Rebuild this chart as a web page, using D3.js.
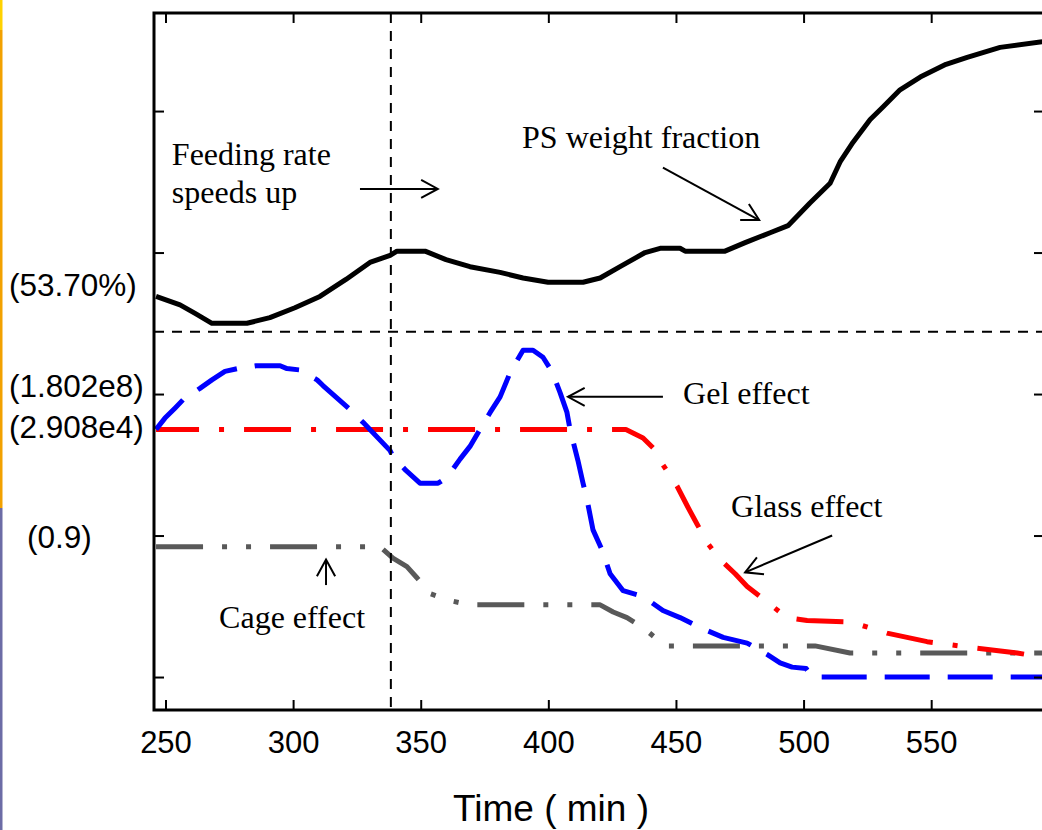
<!DOCTYPE html>
<html><head><meta charset="utf-8">
<script src="https://cdn.jsdelivr.net/npm/d3@7"></script>
<style>body{margin:0;background:#fff;overflow:hidden}</style>
</head><body><svg id="c" width="1042" height="830"></svg>
<script>
// ---------- data ----------
const xTicks = [250, 300, 350, 400, 450, 500, 550];
const yTicks = [0, 1, 2, 3, 4];
const xTitle = "Time ( min )";

// PS weight fraction (black solid)
const psTime = [246.3,255.7,261.6,268.2,281.9,290.9,300.7,310.5,320.7,330.1,338.0,340.7,351.7,359.9,369.3,381.1,390.1,399.9,413.6,420.3,428.1,437.9,443.8,451.6,453.6,469.2,477.1,486.9,493.9,502.5,510.4,514.3,519.4,526.1,531.2,537.8,545.7,555.8,564.1,577.0,593.5];
const psVal  = [2.69,2.63,2.57,2.50,2.50,2.54,2.61,2.69,2.81,2.93,2.98,3.01,3.01,2.95,2.90,2.86,2.82,2.79,2.79,2.82,2.90,3.00,3.03,3.03,3.01,3.01,3.07,3.14,3.19,3.35,3.49,3.64,3.78,3.94,4.03,4.15,4.24,4.33,4.38,4.45,4.49];

// Gel effect (blue dashed)
const gelTime = [246.3,249.8,253.7,256.9,263.5,268.2,273.3,278.4,285.5,294.9,297.6,302.7,309.4,311.7,322.3,327.4,338.0,339.1,344.2,349.7,356.8,360.3,365.4,369.3,373.2,377.2,381.1,385.0,390.1,394.0,397.9,401.4,404.6,407.3,408.5,411.6,413.6,415.2,417.5,421.0,424.2,429.3,437.1,444.9,451.6,459.4,468.5,477.9,485.7,490.8,495.5,501.0,503.3,593.5];
const gelVal  = [1.75,1.83,1.90,1.96,2.04,2.10,2.16,2.18,2.20,2.20,2.18,2.17,2.10,2.06,1.89,1.80,1.60,1.56,1.46,1.37,1.37,1.41,1.54,1.63,1.75,1.87,1.98,2.15,2.31,2.31,2.26,2.16,2.01,1.87,1.75,1.53,1.37,1.25,1.04,0.90,0.73,0.61,0.57,0.47,0.42,0.35,0.28,0.24,0.16,0.10,0.07,0.06,0.00,0.00];

// Glass effect (red dash-dot)
const glassTime = [246.3,430.4,437.1,441.0,444.9,450.4,454.7,458.3,462.2,467.3,473.2,477.9,485.7,493.5,501.4,518.2,532.7,548.4,565.2,583.7,593.5];
const glassVal  = [1.75,1.75,1.69,1.62,1.50,1.35,1.20,1.08,0.95,0.83,0.73,0.64,0.53,0.42,0.40,0.39,0.31,0.25,0.21,0.17,0.14];

// Cage effect (gray dash-dot-dot)
const cageTime = [246.3,334.1,339.1,344.6,348.6,353.6,361.5,369.3,420.3,425.4,430.8,437.1,445.7,504.5,518.2,593.5];
const cageVal  = [0.92,0.92,0.84,0.78,0.70,0.59,0.54,0.51,0.51,0.46,0.42,0.35,0.22,0.22,0.17,0.17];

// reference lines
const feedTime = 338.3;     // vertical dashed line
const psRefLevel = 2.44;    // horizontal dashed line

// left-side value labels
const leftLabels = ["(53.70%)", "(1.802e8)", "(2.908e4)", "(0.9)"];
const leftLabelVals = [2.69, 1.98, 1.69, 0.91];

// ---------- layout ----------
const svg = d3.select("#c");
const L = 154, R = 1044, T = 13, B = 710;
const x = d3.scaleLinear().domain([245.5, 594.2]).range([L, R]);
const y = d3.scaleLinear().domain([-0.233, 4.693]).range([B, T]);
const sans = "'Liberation Sans', Arial, sans-serif";
const serif = "'Liberation Serif', 'Times New Roman', serif";

// left colour strip (slide decoration)
svg.append("rect").attr("x",0).attr("y",0).attr("width",2.5).attr("height",30).attr("fill","#ffd200");
svg.append("rect").attr("x",0).attr("y",30).attr("width",2.5).attr("height",478).attr("fill","#f2a100");
svg.append("rect").attr("x",0).attr("y",508).attr("width",2.5).attr("height",322).attr("fill","#6c6ca6");

svg.append("defs").append("clipPath").attr("id","clip")
  .append("rect").attr("x",L).attr("y",T).attr("width",R-L).attr("height",B-T);

const plot = svg.append("g").attr("clip-path","url(#clip)");

// reference dashed lines
svg.append("line").attr("x1",x(feedTime)).attr("x2",x(feedTime)).attr("y1",T).attr("y2",B+5)
  .attr("stroke","#000").attr("stroke-width",2).attr("stroke-dasharray","10,8");
plot.append("line").attr("x1",L).attr("x2",R).attr("y1",y(psRefLevel)).attr("y2",y(psRefLevel))
  .attr("stroke","#000").attr("stroke-width",2).attr("stroke-dasharray","10,8");

function series(times, vals, color, dash, offset){
  const pts = times.map((t,i)=>[t, vals[i]]);
  plot.append("path").datum(pts)
    .attr("d", d3.line().x(d=>x(d[0])).y(d=>y(d[1])))
    .attr("fill","none").attr("stroke",color).attr("stroke-width",5)
    .attr("stroke-linejoin","round")
    .attr("stroke-dasharray",dash||null).attr("stroke-dashoffset",offset||0);
}
series(cageTime, cageVal, "#595959", "47,19,5,19,5,19", 0);
series(glassTime, glassVal, "#ff0000", "47,20,5,20", 4);
series(gelTime, gelVal, "#0000ff", "45,18", 5);
series(psTime, psVal, "#000000", null, 0);

// axes (ticks point inward)
const ax = (g)=>{ g.select(".domain").remove(); g.selectAll(".tick line").attr("stroke","#000").attr("stroke-width",2); };
svg.append("g").attr("transform",`translate(0,${B})`)
  .call(d3.axisBottom(x).tickValues(xTicks).tickSize(-10).tickPadding(21).tickFormat(d3.format("d")))
  .call(ax)
  .selectAll("text").attr("font-family",sans).attr("font-size",31).attr("fill","#000");
svg.append("g").attr("transform",`translate(0,${T})`)
  .call(d3.axisTop(x).tickValues(xTicks).tickSize(-10).tickFormat("")).call(ax);
svg.append("g").attr("transform",`translate(${L},0)`)
  .call(d3.axisLeft(y).tickValues(yTicks).tickSize(-10).tickFormat("")).call(ax);
svg.append("g").attr("transform",`translate(${R},0)`)
  .call(d3.axisRight(y).tickValues(yTicks).tickSize(-10).tickFormat("")).call(ax);

// frame
svg.append("rect").attr("x",L).attr("y",T).attr("width",R-L).attr("height",B-T)
  .attr("fill","none").attr("stroke","#000").attr("stroke-width",3);

// x title
svg.append("text").attr("x",551).attr("y",821).attr("text-anchor","middle")
  .attr("font-family",sans).attr("font-size",37).text(xTitle);

// left labels
const leftX = [9, 9, 9, 27];
leftLabels.forEach((s,i)=>{
  svg.append("text").attr("x",leftX[i]).attr("y",y(leftLabelVals[i]))
    .attr("font-family",sans).attr("font-size",31.5).text(s);
});

// annotations
const notes = [
  ["Feeding rate", 252.5, 3.62],
  ["speeds up", 252.5, 3.35],
  ["PS weight fraction", 389.7, 3.74],
  ["Gel effect", 452.8, 1.93],
  ["Glass effect", 471.6, 1.13],
  ["Cage effect", 271.0, 0.35]
];
notes.forEach(n=>{
  svg.append("text").attr("x",x(n[1])).attr("y",y(n[2]))
    .attr("font-family",serif).attr("font-size",32).text(n[0]);
});

function arrow(t0,u0,t1,u1){
  const x0=x(t0), y0=y(u0), x1=x(t1), y1=y(u1);
  const a = Math.atan2(y1-y0, x1-x0), len=19, spread=0.5;
  const g = svg.append("g").attr("stroke","#000").attr("stroke-width",2).attr("fill","none");
  g.append("line").attr("x1",x0).attr("y1",y0).attr("x2",x1).attr("y2",y1);
  g.append("path").attr("d",
    `M${x1-len*Math.cos(a-spread)},${y1-len*Math.sin(a-spread)}L${x1},${y1}L${x1-len*Math.cos(a+spread)},${y1-len*Math.sin(a+spread)}`);
}
arrow(326.2, 3.45, 356.7, 3.45);
arrow(444.9, 3.60, 482.6, 3.23);
arrow(444.9, 1.98, 407.7, 1.98);
arrow(511.2, 1.00, 477.1, 0.74);
arrow(312.9, 0.65, 312.9, 0.83);
</script>
</body></html>
